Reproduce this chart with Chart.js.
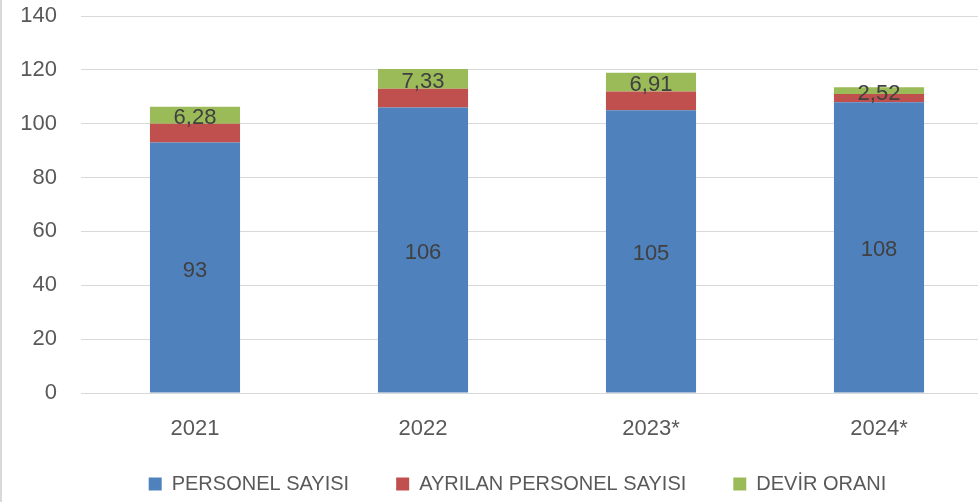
<!DOCTYPE html>
<html>
<head>
<meta charset="utf-8">
<script src="https://cdn.jsdelivr.net/npm/chart.js@4"></script>
<style>
  html, body { margin: 0; padding: 0; background: #fff; overflow: hidden; }
  #wrap { position: relative; width: 993px; height: 502px; }
  #edge { position: absolute; left: 0; top: 0; width: 2px; height: 502px; background: #d9d9d9; }
</style>
</head>
<body>
<div id="wrap">
  <canvas id="chart" width="993" height="502"></canvas>
  <div id="edge"></div>
</div>
<script>
// data
const years = ['2021', '2022', '2023*', '2024*'];
const personel = [93, 106, 105, 108];
const ayrilan = [7, 7, 7, 3];
const devir = [6.28, 7.33, 6.91, 2.52];
const yTicks = [0, 20, 40, 60, 80, 100, 120, 140];

const FONT = "'Liberation Sans', Arial, sans-serif";

// draw values inside the blue and green segments
const segLabels = {
    id: 'segLabels',
    afterDatasetsDraw(chart) {
        const ctx = chart.ctx;
        ctx.save();
        ctx.font = '22px ' + FONT;
        ctx.fillStyle = '#404040';
        ctx.textAlign = 'center';
        ctx.textBaseline = 'middle';
        [0, 2].forEach(di => {
            const meta = chart.getDatasetMeta(di);
            const vals = chart.data.datasets[di].data;
            meta.data.forEach((bar, i) => {
                const p = bar.getProps(['x', 'y', 'base'], true);
                const txt = di === 0 ? String(vals[i]) : vals[i].toFixed(2).replace('.', ',');
                ctx.fillText(txt, p.x, (p.y + p.base) / 2 + 3);
            });
        });
        ctx.restore();
    }
};

// nudge the legend to where it sits in the original
const legendShift = {
    id: 'legendShift',
    afterLayout(chart) {
        const lg = chart.legend;
        lg.left += 21; lg.right += 21;
        lg.top -= 17; lg.bottom -= 17;
    }
};

new Chart(document.getElementById('chart'), {
    type: 'bar',
    data: {
        labels: years,
        datasets: [
            { label: 'PERSONEL SAYISI', data: personel, backgroundColor: '#4F81BD' },
            { label: 'AYRILAN PERSONEL SAYISI', data: ayrilan, backgroundColor: '#C0504D' },
            { label: 'DEVİR ORANI', data: devir, backgroundColor: '#9BBB59' }
        ]
    },
    options: {
        responsive: false,
        animation: false,
        datasets: { bar: { barPercentage: 0.8, categoryPercentage: 0.494 } },
        layout: { padding: { top: 16, right: 0, left: 0, bottom: -19 } },
        scales: {
            x: {
                stacked: true,
                grid: { display: false, drawTicks: false },
                border: { display: false },
                ticks: { color: '#595959', font: { family: FONT, size: 22 }, padding: 23 },
                afterFit: s => { s.height = 51; }
            },
            y: {
                stacked: true,
                min: 0,
                max: 140,
                afterBuildTicks: s => { s.ticks = yTicks.map(v => ({ value: v })); },
                grid: { color: '#d9d9d9', lineWidth: 1, drawTicks: false },
                border: { display: false },
                ticks: { color: '#595959', font: { family: FONT, size: 22 }, padding: 24 },
                afterFit: s => { s.width = 81; s.paddingTop = 0; s.paddingBottom = 0; }
            }
        },
        plugins: {
            legend: {
                position: 'bottom',
                labels: {
                    color: '#595959',
                    font: { family: FONT, size: 20 },
                    boxWidth: 13,
                    boxHeight: 13,
                    padding: 47
                }
            },
            tooltip: { enabled: false }
        }
    },
    plugins: [segLabels, legendShift]
});
</script>
</body>
</html>
